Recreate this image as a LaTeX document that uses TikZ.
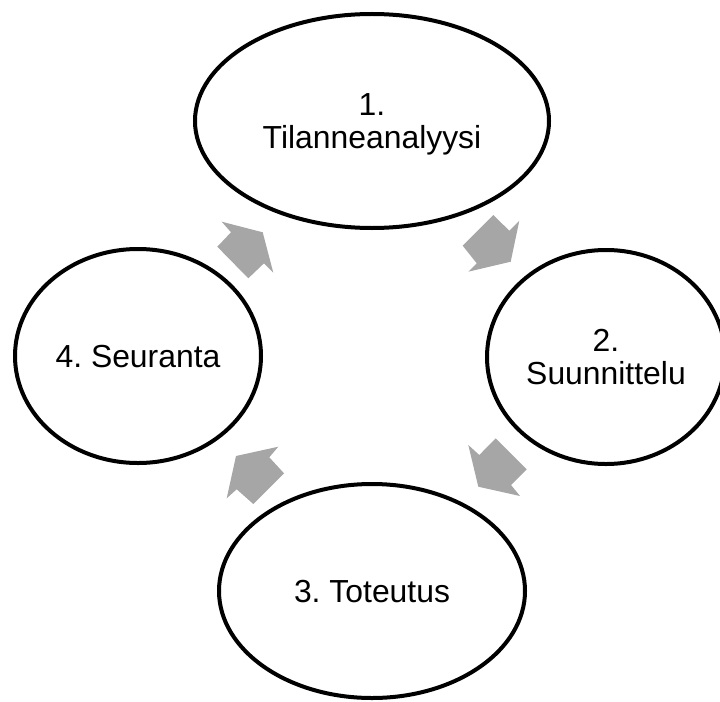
\documentclass[tikz,border=0pt]{standalone}
\usepackage{fontspec}
\setmainfont{Liberation Sans}
\frenchspacing
\usetikzlibrary{shapes.geometric}
\definecolor{arrowgray}{HTML}{A6A6A6}
\tikzset{
  phase/.style={ellipse, draw=black, line width=4bp, fill=white, inner sep=0pt,
    align=center, text depth=0pt, font=\fontsize{32}{33}\selectfont,
    minimum height=214bp},
  blockarrow/.style={fill=arrowgray, draw=none}
}
\begin{document}
\begin{tikzpicture}[x=1bp,y=-1bp]
  \useasboundingbox (0,0) rectangle (720,702);
  \clip (0,0) rectangle (720,702);

  % phases of the cycle
  \node[phase, minimum width=354bp] (p1) at (372,121) {1.\\Tilanneanalyysi};
  \node[phase, minimum width=238bp] (p2) at (606,357) {2.\\Suunnittelu};
  \node[phase, minimum width=306bp] (p3) at (372,591) {3. Toteutus};
  \node[phase, minimum width=246bp] (p4) at (138,356) {4. Seuranta};

  % block arrows between the phases
  \fill[blockarrow] (217.3,246.7) -- (231,232.3) -- (221.7,221.7) -- (262.7,232.3)
    -- (273.3,272.7) -- (264,263.3) -- (248.3,278.3) -- cycle;
  \fill[blockarrow] (493.3,215) -- (509.3,230.7) -- (519.3,220.7) -- (510.7,261.7)
    -- (468.3,271.7) -- (476.7,263.3) -- (462.7,245.7) -- cycle;
  \fill[blockarrow] (526.7,469.3) -- (511,485) -- (520,496) -- (478.3,486.7)
    -- (468.3,445) -- (479.3,455) -- (495.7,438.3) -- cycle;
  \fill[blockarrow] (253.3,504) -- (236.7,489.3) -- (226.7,498.3) -- (236,456)
    -- (278.3,446.7) -- (269.3,457.3) -- (284,473.3) -- cycle;
\end{tikzpicture}
\end{document}
